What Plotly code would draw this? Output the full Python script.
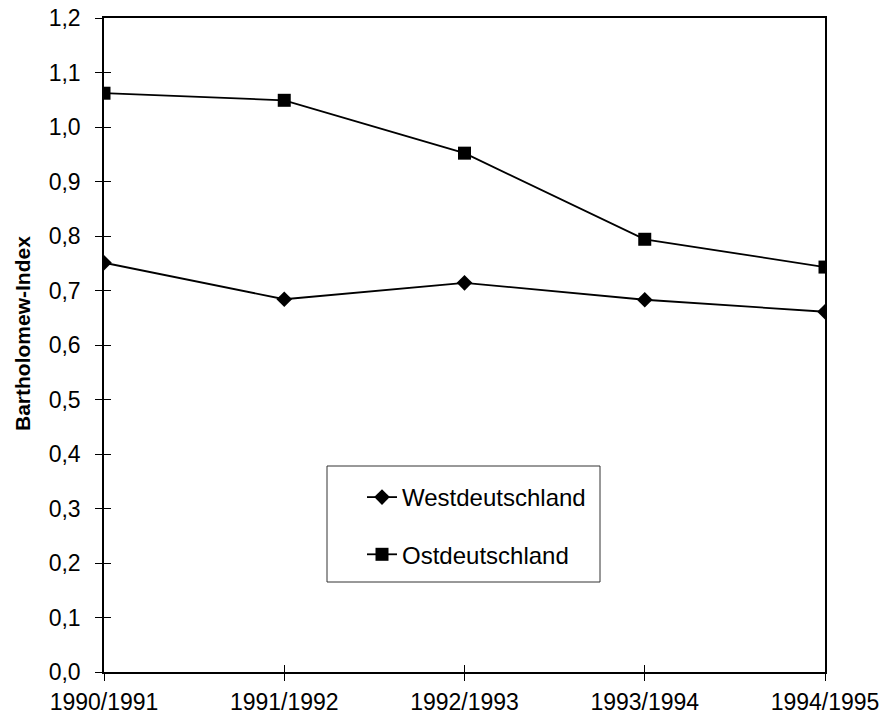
import plotly.graph_objects as go

categories = ["1990/1991", "1991/1992", "1992/1993", "1993/1994", "1994/1995"]
west = [0.751, 0.684, 0.714, 0.683, 0.661]
ost = [1.062, 1.049, 0.952, 0.794, 0.743]
y_ticks = [0.0, 0.1, 0.2, 0.3, 0.4, 0.5, 0.6, 0.7, 0.8, 0.9, 1.0, 1.1, 1.2]

FONT = "Liberation Sans, Arial, sans-serif"

fig = go.Figure()
fig.add_trace(go.Scatter(
    x=categories, y=west, name="Westdeutschland", mode="lines+markers",
    line=dict(color="black", width=1.8), legendgroup="w",
    marker=dict(symbol="diamond", size=12, color="black"),
))
fig.add_trace(go.Scatter(
    x=categories, y=ost, name="Ostdeutschland", mode="lines+markers",
    line=dict(color="black", width=1.8), legendgroup="o",
    marker=dict(symbol="square", size=13, color="black"),
))
# invisible trace on secondary axes to get crossing ticks
fig.add_trace(go.Scatter(x=categories, y=west, xaxis="x2", yaxis="y2",
                         mode="none", showlegend=False, hoverinfo="skip"))

fig.update_layout(
    width=884, height=721,
    margin=dict(l=104, r=59, t=18, b=49, autoexpand=False),
    paper_bgcolor="white", plot_bgcolor="white",
    separators=",.",
    font=dict(family=FONT, size=22, color="black"),
    xaxis=dict(
        type="category", range=[0, 4], showgrid=False, zeroline=False,
        showline=True, linecolor="black", linewidth=1.5, mirror=True,
        ticks="outside", ticklen=7, tickcolor="black", tickwidth=1,
        tickfont=dict(size=23), ticklabelstandoff=2, automargin=False,
    ),
    yaxis=dict(
        range=[0, 1.2], tickvals=y_ticks, tickformat=".1f", showgrid=False,
        zeroline=False, showline=True, linecolor="black", linewidth=1.5,
        mirror=True, ticks="outside", ticklen=7, tickcolor="black", tickwidth=1,
        tickfont=dict(size=23), ticklabelstandoff=10, automargin=False,
    ),
    xaxis2=dict(
        type="category", range=[0, 4], overlaying="x", showgrid=False,
        zeroline=False, showticklabels=False, ticks="inside", ticklen=7,
        tickcolor="black", tickwidth=1, automargin=False,
    ),
    yaxis2=dict(
        range=[0, 1.2], tickvals=y_ticks, overlaying="y", showgrid=False,
        zeroline=False, showticklabels=False, ticks="inside", ticklen=7,
        tickcolor="black", tickwidth=1, automargin=False,
    ),
    legend=dict(
        x=(362 - 104) / 721, y=(672 - 475) / 654, xanchor="left", yanchor="top",
        bgcolor="rgba(0,0,0,0)", borderwidth=0, font=dict(size=24),
        traceorder="grouped", tracegroupgap=23,
    ),
    shapes=[dict(
        type="rect", xref="paper", yref="paper",
        x0=(327 - 104) / 721, x1=(600 - 104) / 721,
        y0=(672 - 582) / 654, y1=(672 - 466) / 654,
        line=dict(color="#333333", width=1), fillcolor="rgba(0,0,0,0)",
    )],
    annotations=[dict(
        text="<b>Bartholomew-Index</b>", textangle=-90, showarrow=False,
        xref="paper", yref="paper", x=(23 - 104) / 721, y=(672 - 334) / 654,
        xanchor="center", yanchor="middle", font=dict(size=21),
    )],
    showlegend=True,
)

fig.write_html("out.html", config={"displayModeBar": False},
               post_script="document.body.style.margin='0';")
